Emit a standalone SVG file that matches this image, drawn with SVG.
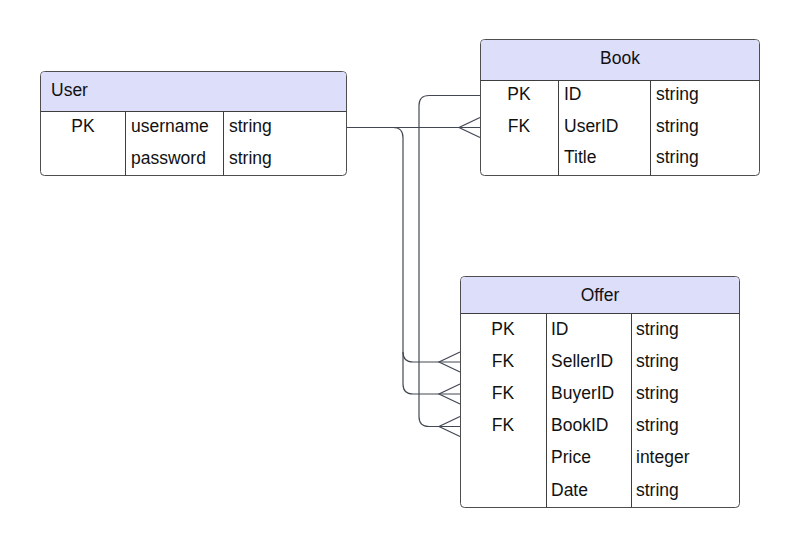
<svg xmlns="http://www.w3.org/2000/svg" width="800" height="548" viewBox="0 0 800 548">
<style>
.box{fill:#ffffff;stroke:#4e4e4e;stroke-width:1}
.hdr{fill:#dddefa;stroke:none}
.ln{stroke:#3e3e3e;stroke-width:1;fill:none}
.t{font-family:"Liberation Sans",Arial,sans-serif;font-size:17.5px;fill:#111111}
.c{text-anchor:middle}
.con{fill:none;stroke:#434953;stroke-width:1.2}
</style>
<rect width="800" height="548" fill="#ffffff"/>
<g id="connectors">
<path class="con" d="M347,127.5 H480"/>
<path class="con" d="M480,117.5 L459,127.5 L480,137.5"/>
<path class="con" d="M480,95.5 H429 Q419,95.5 419,105.5 V416.5 Q419,426.5 429,426.5 H460"/>
<path class="con" d="M460,416.5 L439,426.5 L460,436.5"/>
<path class="con" d="M347,127.5 H393 Q403,127.5 403,137.5 V352 Q403,362 413,362 H460"/>
<path class="con" d="M460,352 L439,362 L460,372"/>
<path class="con" d="M403,352 V384 Q403,394 413,394 H460"/>
<path class="con" d="M460,384 L439,394 L460,404"/>
</g>
<g id="user">
<rect class="box" x="40.5" y="71.5" width="306" height="104" rx="4"/>
<path class="hdr" d="M41,111 V75.5 Q41,72 44.5,72 H342.5 Q346,72 346,75.5 V111 Z"/>
<path class="ln" d="M40.5,111.5 H346.5 M125.5,111.5 V175.5 M223.5,111.5 V175.5"/>
<text class="t" x="51" y="96">User</text>
<text class="t c" x="83" y="132">PK</text>
<text class="t" x="131" y="132">username</text>
<text class="t" x="229" y="132">string</text>
<text class="t" x="131" y="164">password</text>
<text class="t" x="229" y="164">string</text>
</g>
<g id="book">
<rect class="box" x="480.5" y="39.5" width="279" height="136" rx="4"/>
<path class="hdr" d="M481,80 V43.5 Q481,40 484.5,40 H755.5 Q759,40 759,43.5 V80 Z"/>
<path class="ln" d="M480.5,80.5 H759.5 M558.5,80.5 V175.5 M650.5,80.5 V175.5"/>
<text class="t c" x="620" y="64">Book</text>
<text class="t c" x="519" y="100">PK</text>
<text class="t" x="564" y="100">ID</text>
<text class="t" x="656" y="100">string</text>
<text class="t c" x="519" y="132">FK</text>
<text class="t" x="564" y="132">UserID</text>
<text class="t" x="656" y="132">string</text>
<text class="t" x="564" y="163">Title</text>
<text class="t" x="656" y="163">string</text>
</g>
<g id="offer">
<rect class="box" x="460.5" y="276.5" width="279" height="231" rx="4"/>
<path class="hdr" d="M461,313 V280.5 Q461,277 464.5,277 H735.5 Q739,277 739,280.5 V313 Z"/>
<path class="ln" d="M460.5,313.5 H739.5 M546.5,313.5 V507.5 M631.5,313.5 V507.5"/>
<text class="t c" x="600" y="301">Offer</text>
<text class="t c" x="503" y="335">PK</text>
<text class="t" x="551" y="335">ID</text>
<text class="t" x="636" y="335">string</text>
<text class="t c" x="503" y="367">FK</text>
<text class="t" x="551" y="367">SellerID</text>
<text class="t" x="636" y="367">string</text>
<text class="t c" x="503" y="399">FK</text>
<text class="t" x="551" y="399">BuyerID</text>
<text class="t" x="636" y="399">string</text>
<text class="t c" x="503" y="431">FK</text>
<text class="t" x="551" y="431">BookID</text>
<text class="t" x="636" y="431">string</text>
<text class="t" x="551" y="463">Price</text>
<text class="t" x="636" y="463">integer</text>
<text class="t" x="551" y="496">Date</text>
<text class="t" x="636" y="496">string</text>
</g>
</svg>
